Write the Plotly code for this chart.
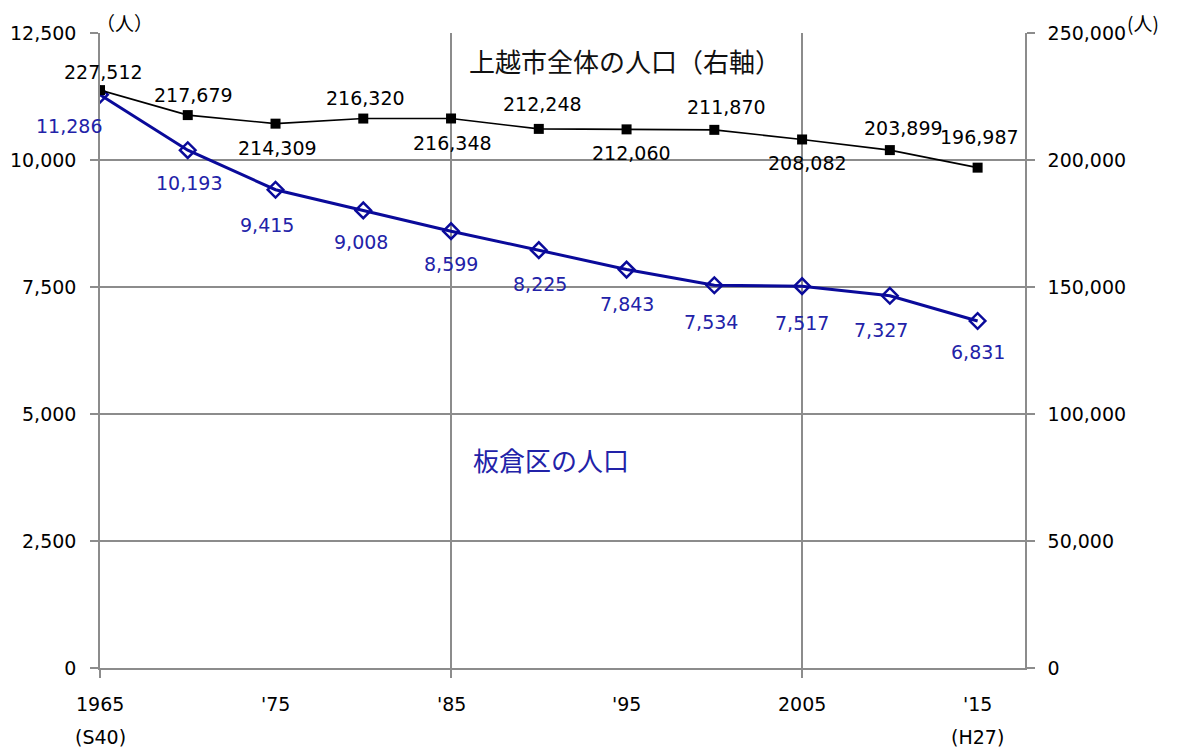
import plotly.graph_objects as go

years = [1965, 1970, 1975, 1980, 1985, 1990, 1995, 2000, 2005, 2010, 2015]
itakura = [11286, 10193, 9415, 9008, 8599, 8225, 7843, 7534, 7517, 7327, 6831]
joetsu = [227512, 217679, 214309, 216320, 216348, 212248, 212060, 211870, 208082, 203899, 196987]
x_label_years = [1965, 1975, 1985, 1995, 2005, 2015]
x_labels = ["1965", "'75", "'85", "'95", "2005", "'15"]
x_sub_years = [1965, 2015]
x_sub_labels = ["(S40)", "(H27)"]
left_ticks = [0, 2500, 5000, 7500, 10000, 12500]
right_ticks = [0, 50000, 100000, 150000, 200000, 250000]

# label offsets (pixels)
joetsu_off = [(3, 18), (6, 20), (2, -24), (2, 21), (1, -25), (4, 25), (5, -24), (12, 23), (5, -24), (14, 22), (2, 31)]
itakura_off = [(-31, -31), (1, -33), (-9, -35), (-2, -32), (0, -33), (1, -34), (0, -34), (-3, -37), (0, -37), (-9, -34), (0, -31)]

BLUE = "#0A0A9A"
LBLUE = "#2222A8"
GRID = "#8C8C8C"
NUMFONT = "DejaVu Sans, Noto Sans CJK JP, sans-serif"
JPFONT = "Noto Sans CJK JP, sans-serif"
FS = 19

fig = go.Figure()
fig.add_trace(go.Scatter(
    x=years, y=joetsu, yaxis="y2", mode="lines+markers",
    line=dict(color="black", width=1.6),
    marker=dict(symbol="square", size=10, color="black"),
    showlegend=False, hoverinfo="skip"))
fig.add_trace(go.Scatter(
    x=years, y=itakura, mode="lines+markers",
    line=dict(color=BLUE, width=3),
    marker=dict(symbol="diamond-open", size=12, color=BLUE, line=dict(width=2.5, color=BLUE)),
    showlegend=False, hoverinfo="skip"))

ann = []
for x, v, (dx, dy) in zip(years, joetsu, joetsu_off):
    ann.append(dict(x=x, y=v, xref="x", yref="y2", text=f"{v:,}", showarrow=False,
                    xshift=dx, yshift=dy, font=dict(size=FS, color="black", family=NUMFONT)))
for x, v, (dx, dy) in zip(years, itakura, itakura_off):
    ann.append(dict(x=x, y=v, xref="x", yref="y", text=f"{v:,}", showarrow=False,
                    xshift=dx, yshift=dy, font=dict(size=FS, color=LBLUE, family=NUMFONT)))
for x, t in zip(x_label_years, x_labels):
    ann.append(dict(x=x, y=0, xref="x", yref="paper", text=t, showarrow=False,
                    yanchor="middle", yshift=-36,
                    font=dict(size=FS, color="black", family=NUMFONT)))
for x, t in zip(x_sub_years, x_sub_labels):
    ann.append(dict(x=x, y=0, xref="x", yref="paper", text=t, showarrow=False,
                    yanchor="middle", yshift=-69,
                    font=dict(size=FS, color="black", family=NUMFONT)))
ann.append(dict(x=0.568, y=1.0, xref="paper", yref="paper", text="上越市全体の人口（右軸）",
                showarrow=False, yanchor="middle", yshift=-27,
                font=dict(size=26, color="#111111", family=JPFONT)))
ann.append(dict(x=0.488, y=0.328, xref="paper", yref="paper", text="板倉区の人口",
                showarrow=False, yanchor="middle",
                font=dict(size=26, color=LBLUE, family=JPFONT)))
ann.append(dict(x=0.0, y=1.0, xref="paper", yref="paper", text="（人）",
                showarrow=False, xanchor="left", yanchor="top", xshift=-6, yshift=26,
                font=dict(size=19, color="black", family=JPFONT)))
ann.append(dict(x=1.0, y=1.0, xref="paper", yref="paper", text="(人)",
                showarrow=False, xanchor="left", yanchor="top", xshift=100, yshift=26,
                font=dict(size=19, color="black", family=JPFONT)))

axis_common = dict(ticks="outside", ticklen=8, tickcolor=GRID, tickwidth=1.5,
                   showline=True, linecolor=GRID, linewidth=1.5, zeroline=False,
                   automargin=False)

fig.update_layout(
    width=1170, height=746,
    margin=dict(l=92, r=153, t=25, b=86),
    paper_bgcolor="white", plot_bgcolor="white",
    annotations=ann,
    xaxis=dict(range=[1965, 2017.7], tick0=1965, dtick=20, showgrid=True,
               gridcolor=GRID, gridwidth=1.5, showticklabels=False, **axis_common),
    yaxis=dict(range=[0, 12500], tickvals=left_ticks, tickformat=",",
               showgrid=True, gridcolor=GRID, gridwidth=1.5, ticklabelstandoff=10,
               tickfont=dict(size=FS, color="black", family=NUMFONT), **axis_common),
    yaxis2=dict(range=[0, 250000], tickvals=right_ticks, tickformat=",",
                overlaying="y", side="right", showgrid=False, ticklabelstandoff=9,
                tickfont=dict(size=FS, color="black", family=NUMFONT), **axis_common),
)

fig.write_html("out.html")
